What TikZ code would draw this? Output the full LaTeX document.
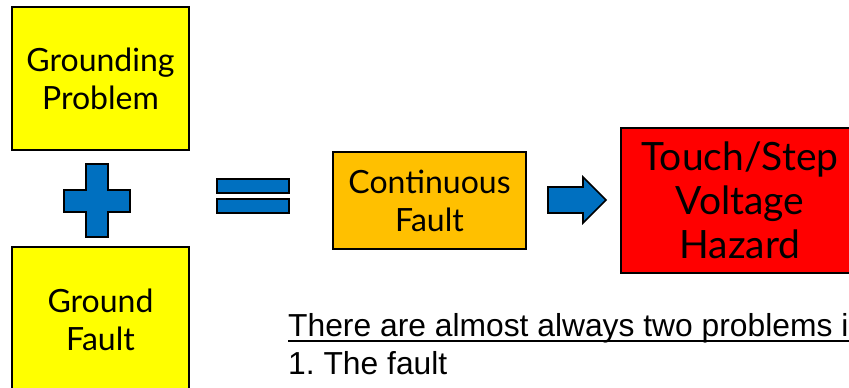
\documentclass[tikz,border=0pt]{standalone}
\usepackage{fontspec}
\setmainfont{Liberation Sans}
\newfontfamily\lato{Lato}
\frenchspacing
\definecolor{boxyellow}{HTML}{FFFF00}
\definecolor{boxorange}{HTML}{FFC000}
\definecolor{boxred}{HTML}{FF0000}
\definecolor{symblue}{HTML}{0070C0}
\tikzset{
  blockbox/.style={draw=black, line width=1.6pt, inner sep=0pt, align=center},
  smallbox/.style={blockbox, font=\lato\fontsize{32}{38}\selectfont},
  bigbox/.style={blockbox, font=\lato\fontsize{39}{44}\selectfont},
  symbol/.style={draw=black, line width=1.6pt, fill=symblue, line join=miter},
  plaintext/.style={font=\fontsize{31.8}{37}\selectfont, inner sep=0pt, anchor=base west}
}
\begin{document}
\begin{tikzpicture}[x=1pt, y=-1pt]
\useasboundingbox (0,0) rectangle (849,388);
\clip (0,0) rectangle (849,388);
\node[smallbox, fill=boxyellow, minimum width=177pt, minimum height=143pt] (gp) at (100.5,78.5) {Grounding\\Problem};
\node[smallbox, fill=boxyellow, minimum width=177pt, minimum height=146pt] (gf) at (100.5,320) {Ground\\Fault};
\node[smallbox, fill=boxorange, minimum width=193pt, minimum height=97pt] (cf) at (429.5,200.5) {Continuous\\Fault};
\node[bigbox, fill=boxred, minimum width=238pt, minimum height=145pt] (hz) at (740,200.5) {Touch/Step\\Voltage\\Hazard};
% plus sign
\draw[symbol] (86,164) -- (108,164) -- (108,190) -- (130,190) -- (130,212) -- (108,212) -- (108,237) -- (86,237) -- (86,212) -- (64,212) -- (64,190) -- (86,190) -- cycle;
% equals sign
\draw[symbol] (217,179) rectangle (289,193);
\draw[symbol] (217,199) rectangle (289,213);
% block arrow
\draw[symbol] (548,187) -- (583,187) -- (583,177) -- (606,200) -- (583,223) -- (583,213) -- (548,213) -- cycle;
% text
\node[plaintext] (t1) at (288,336.5) {There are almost always two problems i};
\node[plaintext] (t2) at (288,374) {1. The fault};
\draw[line width=2.4pt] ([yshift=-4.2pt]t1.base west) -- ([yshift=-4.2pt]t1.base east);
\end{tikzpicture}
\end{document}
